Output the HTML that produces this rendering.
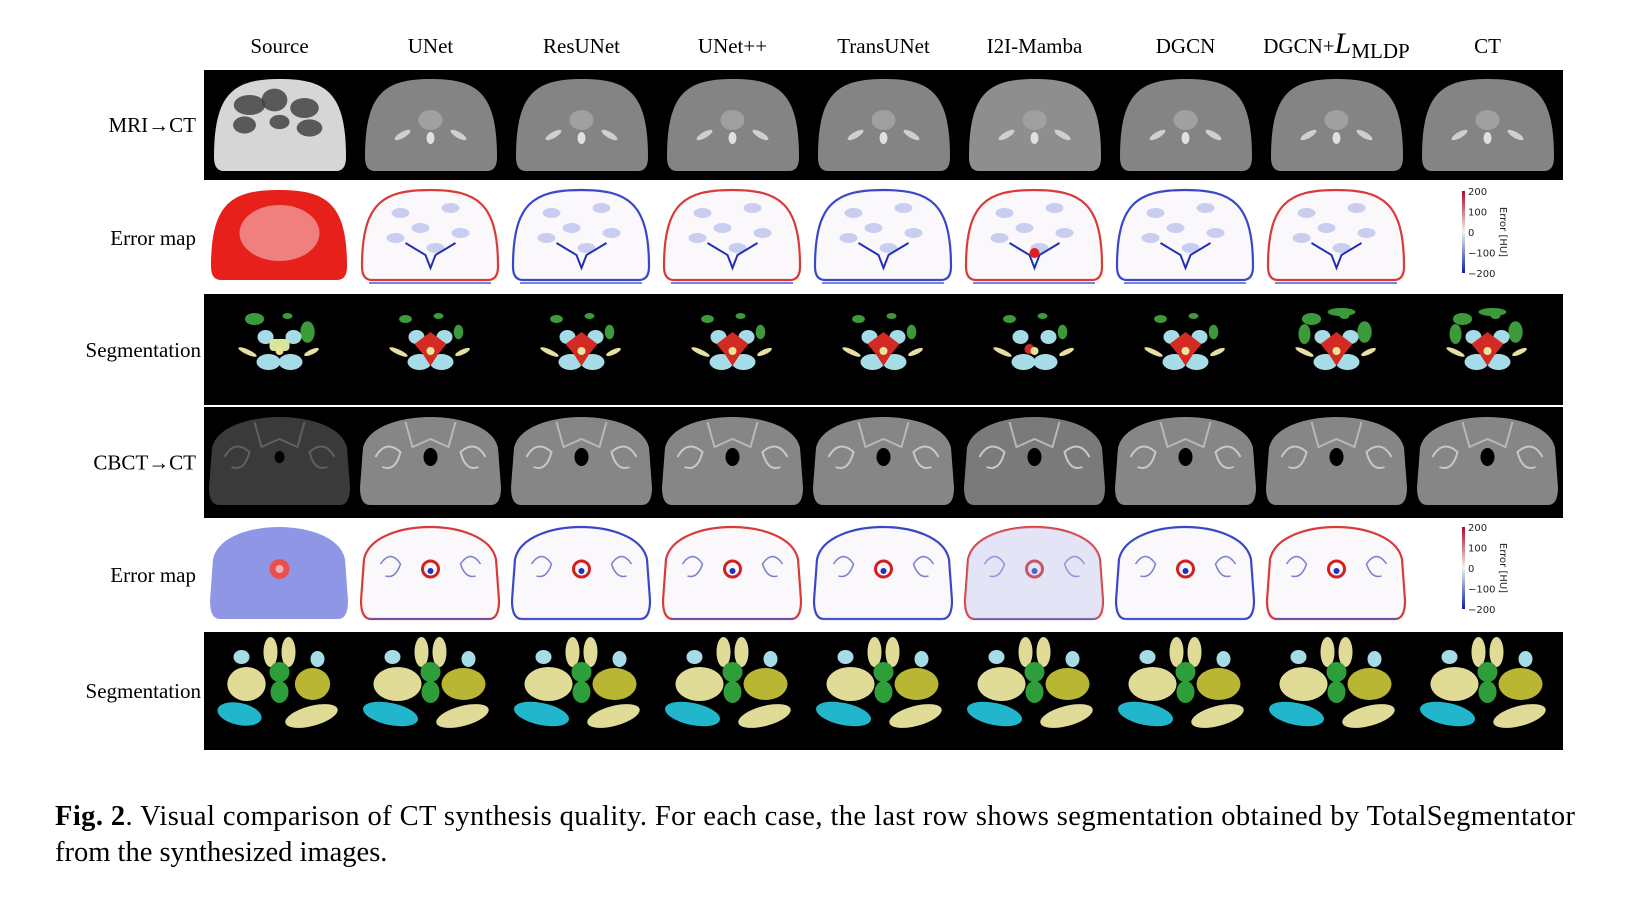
<!DOCTYPE html>
<html><head><meta charset="utf-8">
<style>
html,body{margin:0;padding:0;background:#fff;width:1629px;height:897px;overflow:hidden}
svg{position:absolute;left:0;top:0}
text{font-family:"Liberation Serif",serif}
</style></head>
<body>
<svg id="fig" width="1629" height="897" viewBox="0 0 1629 897"></svg>
<script>
const columns=["Source","UNet","ResUNet","UNet++","TransUNet","I2I-Mamba","DGCN","DGCN+","CT"];
const rowLabels=["MRI\u2192CT","Error map","Segmentation","CBCT\u2192CT","Error map","Segmentation"];
const rowTops=[70,183,294,407,519,632];
const rowHeights=[110,110,112,111,112,118];
const rowKinds=["mri","err1","seg1","cbct","err2","seg2"];
const X0=204, CW=151;
const NS="http://www.w3.org/2000/svg";
const svg=document.getElementById('fig');
function el(tag,attrs,parent){const e=document.createElementNS(NS,tag);for(const k in attrs)e.setAttribute(k,attrs[k]);(parent||svg).appendChild(e);return e;}
columns.forEach((c,i)=>{
  const t=el('text',{x:X0+CW*i+CW/2,y:53,'font-size':21,'text-anchor':'middle',fill:'#000'});
  
  
  if(c==="DGCN+"){t.innerHTML='DGCN+<tspan font-size="30" font-style="italic" font-family="Liberation Serif">L</tspan><tspan font-size="21" dy="5">MLDP</tspan>';}
  else t.textContent=c;
});
rowLabels.forEach((r,j)=>{
  const t=el('text',{x:j===2||j===5?201:196,y:rowTops[j]+rowHeights[j]/2+7,'font-size':21,'text-anchor':'end',fill:'#000'});
  
  
  t.textContent=r;
});
function bodyPath(x,y,w,h){
  return `M${x},${y+h*0.85} C${x},${y+h*0.15} ${x+w*0.15},${y} ${x+w/2},${y} C${x+w*0.85},${y} ${x+w},${y+h*0.15} ${x+w},${y+h*0.85} Q${x+w},${y+h} ${x+w-10},${y+h} L${x+10},${y+h} Q${x},${y+h} ${x},${y+h*0.85} Z`;
}
function cbctPath(x,y,w,h){
  return `M${x},${y+h*0.8} L${x+3},${y+h*0.35} C${x+8},${y+h*0.1} ${x+w*0.3},${y} ${x+w/2},${y} C${x+w*0.7},${y} ${x+w-8},${y+h*0.1} ${x+w-3},${y+h*0.35} L${x+w},${y+h*0.8} Q${x+w},${y+h} ${x+w-10},${y+h} L${x+10},${y+h} Q${x},${y+h} ${x},${y+h*0.8} Z`;
}
rowKinds.forEach((kind,j)=>{
  const top=rowTops[j],H=rowHeights[j];
  const dark=(kind==="mri"||kind==="cbct"||kind.startsWith("seg"));
  const bg=el('rect',{x:X0,y:top,width:CW*9,height:H,fill:dark?'#000':'#fff'});
  
  
  columns.forEach((c,i)=>{
    const cx=X0+CW*i, mid=cx+CW/2;
    const g=el('g',{});
    
    
    const isErrCT=(kind.startsWith('err')&&i===8);
    if(kind==="mri"){
      el('path',{d:bodyPath(cx+10,top+9,132,92),fill:i===0?'#d6d6d6':(i===5?'#8e8e8e':'#848484')},g);
      if(i===0){
        [[-30,35,22,14],[-5,30,18,16],[25,38,20,14],[-35,55,16,12],[30,58,18,12],[0,52,14,10]].forEach(a=>el('ellipse',{cx:mid+a[0],cy:top+a[1],rx:a[2]/1.4,ry:a[3]/1.4,fill:'#3a3a3a',opacity:0.8},g));
      } else {
        el('ellipse',{cx:mid,cy:top+50,rx:12,ry:10,fill:'#a0a0a0'},g);
        el('ellipse',{cx:mid-28,cy:top+65,rx:9,ry:3,fill:'#cfcfcf',transform:`rotate(-30 ${mid-28} ${top+65})`},g);
        el('ellipse',{cx:mid+28,cy:top+65,rx:9,ry:3,fill:'#cfcfcf',transform:`rotate(30 ${mid+28} ${top+65})`},g);
        el('ellipse',{cx:mid,cy:top+68,rx:4,ry:6,fill:'#e0e0e0'},g);
      }
    } else if(kind.startsWith("err")){
      if(isErrCT){
        const by=top+8;
        el('rect',{x:cx+50,y:by,width:3,height:82,fill:'url(#cbar)'},g);
        ["200","100","0","\u2212100","\u2212200"].forEach((l,k)=>{
          const t=el('text',{x:cx+56,y:by+4+k*20.5,'font-size':10,fill:'#222'},g);
          t.style.fontFamily='"DejaVu Sans",sans-serif';t.textContent=l;
        });
        const t=el('text',{x:cx+88,y:by+41,'font-size':10,fill:'#222',transform:`rotate(90 ${cx+88} ${by+41})`,'text-anchor':'middle'},g);
        t.style.fontFamily='"DejaVu Sans",sans-serif';t.textContent='Error [HU]';
        return;
      }
      const p=kind==="err1"?bodyPath(cx+7,top+7,136,90):cbctPath(cx+6,top+8,138,92);
      if(i===0){
        el('path',{d:p,fill:kind==="err1"?'#e8201c':'#8f96e6'},g);
        if(kind==="err1"){el('ellipse',{cx:mid,cy:top+50,rx:40,ry:28,fill:'#f08080'},g);}
        else{el('circle',{cx:mid,cy:top+50,r:10,fill:'#e85050'},g);el('circle',{cx:mid,cy:top+50,r:4,fill:'#f0b0b0'},g);}
      } else {
        el('path',{d:p,fill:'#fbf8fb',stroke:(i%2)?'#d93a3a':'#3a48c8','stroke-width':2.2},g);
        el('line',{x1:cx+14,y1:top+100,x2:cx+136,y2:top+100,stroke:'#4a5ad0','stroke-width':1.5},g);
        if(kind==="err1"){
          [[-30,30],[20,25],[-10,45],[30,50],[-35,55],[5,65]].forEach(a=>el('ellipse',{cx:mid+a[0],cy:top+a[1],rx:9,ry:5,fill:'#a8b0e8',opacity:0.6},g));
          el('path',{d:`M${mid-25},${top+60} L${mid-5},${top+72} L${mid},${top+85} L${mid+5},${top+72} L${mid+25},${top+60}`,stroke:'#2030b0','stroke-width':2,fill:'none'},g);
          if(i===5)el('circle',{cx:mid,cy:top+70,r:5,fill:'#e02020'},g);
        } else {
          el('circle',{cx:mid,cy:top+50,r:8,fill:'none',stroke:'#d02020','stroke-width':3},g);
          el('circle',{cx:mid,cy:top+52,r:3,fill:'#2030c0'},g);
          el('path',{d:`M${mid-50},${top+45} q10,-15 20,0 q-5,15 -15,12`,stroke:'#7a80d0','stroke-width':1.5,fill:'none'},g);
          el('path',{d:`M${mid+50},${top+45} q-10,-15 -20,0 q5,15 15,12`,stroke:'#7a80d0','stroke-width':1.5,fill:'none'},g);
          if(i===5)el('path',{d:p,fill:'#b8c0ee',opacity:0.35},g);
        }
      }
    } else if(kind==="cbct"){
      el('path',{d:cbctPath(cx+5,top+10,141,88),fill:i===0?'#3a3a3a':(i===5?'#7a7a7a':'#868686')},g);
      el('path',{d:`M${mid-25},${top+15} L${mid-18},${top+40} L${mid},${top+32} L${mid+18},${top+40} L${mid+25},${top+15}`,stroke:i?'#b8b8b8':'#606060','stroke-width':2,fill:'none'},g);
      el('path',{d:`M${mid-55},${top+50} q10,-18 25,-5 q-5,20 -18,15`,stroke:i?'#c8c8c8':'#606060','stroke-width':2,fill:'none'},g);
      el('path',{d:`M${mid+55},${top+50} q-10,-18 -25,-5 q5,20 18,15`,stroke:i?'#c8c8c8':'#606060','stroke-width':2,fill:'none'},g);
      el('ellipse',{cx:mid,cy:top+50,rx:i===0?5:7,ry:i===0?6:9,fill:'#000'},g);
    } else if(kind==="seg1"){
      const s=(i===0||i>=7)?1.2:0.8;
      el('ellipse',{cx:mid-25,cy:top+25,rx:8*s,ry:5*s,fill:'#3c9a3a'},g);
      el('ellipse',{cx:mid+28,cy:top+38,rx:6*s,ry:9*s,fill:'#3c9a3a'},g);
      el('ellipse',{cx:mid+8,cy:top+22,rx:5,ry:3,fill:'#3c9a3a'},g);
      if(i>=7){el('ellipse',{cx:mid-32,cy:top+40,rx:6,ry:10,fill:'#3c9a3a'},g);el('ellipse',{cx:mid+5,cy:top+18,rx:14,ry:4,fill:'#3c9a3a'},g);}
      el('ellipse',{cx:mid-14,cy:top+43,rx:8,ry:7,fill:'#a6dbe8'},g);
      el('ellipse',{cx:mid+14,cy:top+43,rx:8,ry:7,fill:'#a6dbe8'},g);
      el('ellipse',{cx:mid-11,cy:top+68,rx:12,ry:8,fill:'#a6dbe8'},g);
      el('ellipse',{cx:mid+11,cy:top+68,rx:12,ry:8,fill:'#a6dbe8'},g);
      if(i===0){el('rect',{x:mid-10,y:top+45,width:20,height:12,rx:4,fill:'#d7e69a'},g);}
      else if(i!==5){el('path',{d:`M${mid},${top+38} L${mid+16},${top+50} L${mid+7},${top+61} L${mid},${top+72} L${mid-7},${top+61} L${mid-16},${top+50} Z`,fill:'#d32b24'},g);}
      else el('ellipse',{cx:mid-5,cy:top+55,rx:5,ry:5,fill:'#d32b24'},g);
      el('ellipse',{cx:mid,cy:top+57,rx:4,ry:4,fill:'#ece49a'},g);
      el('ellipse',{cx:mid-32,cy:top+58,rx:10,ry:2.5,fill:'#e8e0a0',transform:`rotate(25 ${mid-32} ${top+58})`},g);
      el('ellipse',{cx:mid+32,cy:top+58,rx:8,ry:2.5,fill:'#e8e0a0',transform:`rotate(-25 ${mid+32} ${top+58})`},g);
    } else {
      const sc=i===0?0.8:1;
      el('ellipse',{cx:mid-33,cy:top+52,rx:24*sc,ry:17,fill:'#e0dc98'},g);
      el('ellipse',{cx:mid+33,cy:top+52,rx:22*sc,ry:16,fill:'#b8b632'},g);
      el('ellipse',{cx:mid-9,cy:top+20,rx:7,ry:15,fill:'#e0dc98'},g);
      el('ellipse',{cx:mid+9,cy:top+20,rx:7,ry:15,fill:'#e0dc98'},g);
      el('ellipse',{cx:mid-38,cy:top+25,rx:8,ry:7,fill:'#a6dbe8'},g);
      el('ellipse',{cx:mid+38,cy:top+27,rx:7,ry:8,fill:'#a6dbe8'},g);
      el('ellipse',{cx:mid,cy:top+40,rx:10,ry:10,fill:'#2e9e3a'},g);
      el('ellipse',{cx:mid,cy:top+60,rx:9,ry:11,fill:'#2e9e3a'},g);
      el('ellipse',{cx:mid-40,cy:top+82,rx:28*sc,ry:11,fill:'#22b6cc',transform:`rotate(12 ${mid-40} ${top+82})`},g);
      el('ellipse',{cx:mid+32,cy:top+84,rx:27,ry:10,fill:'#e0dc98',transform:`rotate(-15 ${mid+32} ${top+84})`},g);
    }
  });
});
el('rect',{x:X0,y:405,width:CW*9,height:1.5,fill:'#fff'});
const defs=el('defs',{});
const lg=el('linearGradient',{id:'cbar',x1:0,y1:0,x2:0,y2:1},defs);
el('stop',{offset:'0','stop-color':'#b40426'},lg);el('stop',{offset:'0.5','stop-color':'#f2f2f2'},lg);el('stop',{offset:'1','stop-color':'#0a1fa8'},lg);
const c1=el('text',{x:55,y:825,'font-size':28.5,fill:'#000',textLength:1520,lengthAdjust:'spacing'});


c1.innerHTML='<tspan font-weight="bold">Fig. 2</tspan>.  Visual comparison of CT synthesis quality.  For each case, the last row shows segmentation obtained by TotalSegmentator';
const c2=el('text',{x:55,y:861,'font-size':28.5,fill:'#000'});


c2.textContent='from the synthesized images.';
</script>
</body></html>
